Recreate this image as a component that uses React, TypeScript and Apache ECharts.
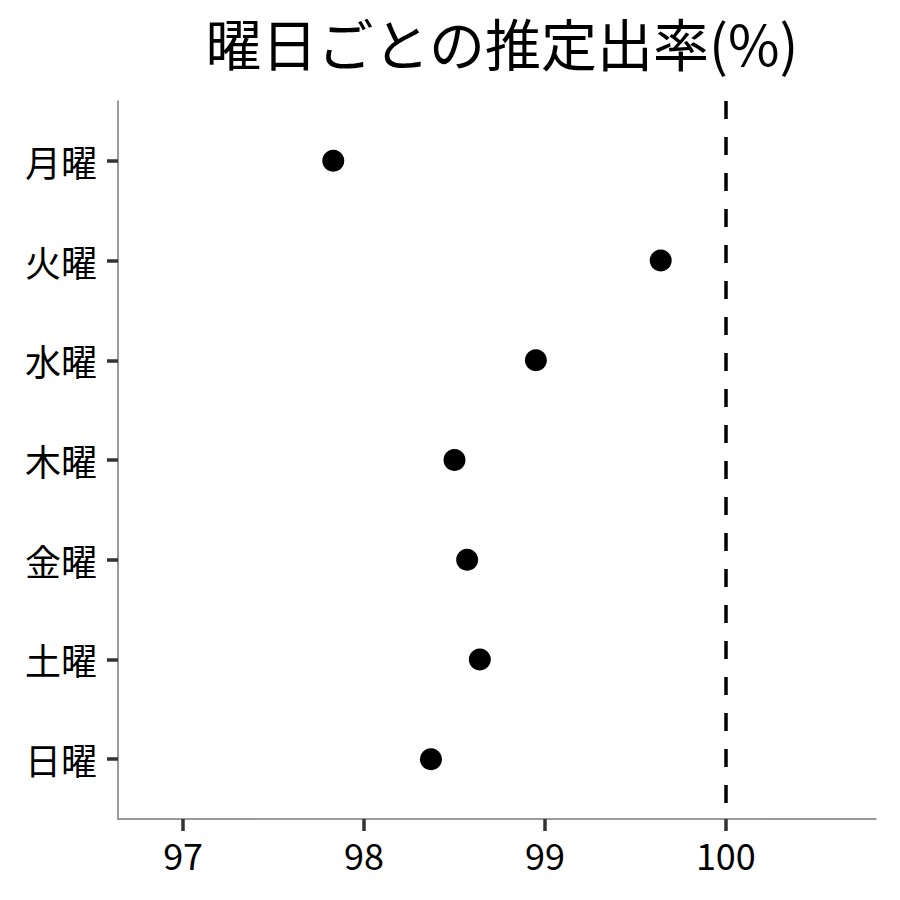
import { useRef, useEffect } from "react";
import * as echarts from "echarts";

const days = ["月曜", "火曜", "水曜", "木曜", "金曜", "土曜", "日曜"];
const rates = [97.83, 99.64, 98.95, 98.5, 98.57, 98.64, 98.37];
const xTicks = [97, 98, 99, 100];
const refLine = 100;

const FONT = "'Noto Sans CJK JP', 'Noto Sans', sans-serif";
const Y_MIN = -0.6;
const Y_MAX = days.length - 0.4;

export default function App() {
  const chartRef = useRef<HTMLDivElement>(null);

  useEffect(() => {
    if (!chartRef.current) return;
    const chart = echarts.init(chartRef.current, null, { renderer: "svg" });

    const option: echarts.EChartsOption = {
      animation: false,
      backgroundColor: "#ffffff",
      textStyle: { fontFamily: FONT },
      title: {
        text: "曜日ごとの推定出率(%)",
        left: 497,
        top: 8,
        textAlign: "center",
        textStyle: { fontFamily: FONT, fontSize: 56, fontWeight: "normal", color: "#000" },
      },
      grid: { left: 118, right: 24, top: 101, bottom: 81 },
      xAxis: {
        type: "value",
        min: 96.64,
        max: 100.83,
        splitLine: { show: false },
        axisLine: { show: true, onZero: false, lineStyle: { color: "#7a7a7a", width: 1.5 } },
        axisTick: {
          show: true,
          customValues: xTicks,
          length: 12,
          lineStyle: { color: "#333", width: 3.5 },
        },
        axisLabel: {
          customValues: xTicks,
          margin: 17,
          fontSize: 36,
          color: "#000",
          fontFamily: FONT,
          formatter: (v: number) => String(Math.round(v)),
        },
      },
      yAxis: {
        type: "value",
        inverse: true,
        min: Y_MIN,
        max: Y_MAX,
        splitLine: { show: false },
        axisLine: { show: true, onZero: false, lineStyle: { color: "#7a7a7a", width: 1.5 } },
        axisTick: {
          show: true,
          customValues: days.map((_, i) => i),
          length: 11,
          lineStyle: { color: "#333", width: 3.5 },
        },
        axisLabel: {
          customValues: days.map((_, i) => i),
          margin: 21,
          fontSize: 36,
          color: "#000",
          fontFamily: FONT,
          formatter: (v: number) => days[Math.round(v)] ?? "",
        },
      },
      series: [
        {
          type: "scatter",
          symbol: "circle",
          symbolSize: 22,
          itemStyle: { color: "#000", opacity: 1 },
          data: rates.map((r, i) => [r, i]),
          markLine: {
            silent: true,
            symbol: "none",
            label: { show: false },
            lineStyle: { color: "#000", width: 3.5, type: [18, 18] },
            data: [{ xAxis: refLine }],
          },
        },
      ],
    };

    chart.setOption(option);
    return () => chart.dispose();
  }, []);

  return (
    <div
      ref={chartRef}
      style={{ position: "fixed", left: 0, top: 0, width: "900px", height: "900px" }}
    />
  );
}
